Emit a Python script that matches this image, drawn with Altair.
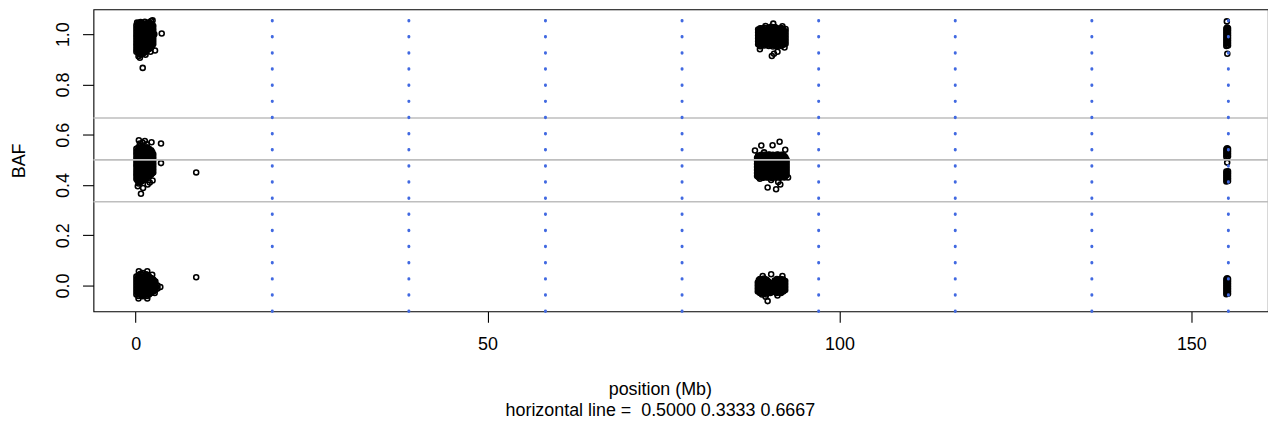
import altair as alt
import pandas as pd

# ---------------- data ----------------
# cluster near 0-3 Mb : columns of positions and BAF values in each column
C1_HI_X = [0.1, 0.4, 0.7, 1.0, 1.3, 1.6, 1.9, 2.2, 2.5]
C1_HI_Y = [
    [0.93, 0.941, 0.953, 0.964, 0.976, 0.988, 0.999, 1.011, 1.023, 1.035],
    [0.912, 0.925, 0.937, 0.949, 0.961, 0.973, 0.986, 0.998, 1.009, 1.021, 1.033, 1.044],
    [0.918, 0.929, 0.94, 0.952, 0.965, 0.977, 0.988, 1.0, 1.012, 1.025, 1.037, 1.048],
    [0.921, 0.934, 0.946, 0.957, 0.969, 0.982, 0.994, 1.006, 1.017, 1.03, 1.042],
    [0.927, 0.939, 0.951, 0.963, 0.976, 0.988, 1.0, 1.012, 1.024, 1.036, 1.049],
    [0.935, 0.947, 0.958, 0.97, 0.982, 0.994, 1.006, 1.018, 1.03, 1.043],
    [0.941, 0.953, 0.964, 0.977, 0.989, 1.001, 1.013, 1.024, 1.036, 1.047],
    [0.947, 0.959, 0.971, 0.983, 0.995, 1.006, 1.018, 1.031, 1.042, 1.052],
    [0.961, 0.973, 0.985, 0.996, 1.008, 1.02, 1.033],
]
C1_HI_FILL_X = [0.25, 0.55, 0.85, 1.15, 1.45, 1.75, 2.05, 2.35]
C1_HI_FILL_Y = [
    [0.935, 0.947, 0.959, 0.971, 0.983, 0.995, 1.007, 1.019, 1.031],
    [0.92, 0.932, 0.944, 0.956, 0.968, 0.98, 0.992, 1.004, 1.016, 1.028, 1.04],
    [0.924, 0.936, 0.948, 0.96, 0.972, 0.984, 0.996, 1.008, 1.02, 1.032, 1.044],
    [0.928, 0.94, 0.952, 0.964, 0.976, 0.988, 1.0, 1.012, 1.024, 1.036],
    [0.933, 0.945, 0.957, 0.969, 0.981, 0.993, 1.005, 1.017, 1.029, 1.041],
    [0.94, 0.952, 0.964, 0.976, 0.988, 1.0, 1.012, 1.024, 1.036],
    [0.946, 0.958, 0.97, 0.982, 0.994, 1.006, 1.018, 1.03, 1.042],
    [0.954, 0.966, 0.978, 0.99, 1.002, 1.014, 1.026, 1.038],
]
C1_MID_X = [0.1, 0.4, 0.7, 1.0, 1.3, 1.6, 1.9, 2.2, 2.5]
C1_MID_Y = [
    [0.424, 0.437, 0.448, 0.46, 0.473, 0.484, 0.496, 0.508, 0.521, 0.532, 0.544],
    [0.406, 0.418, 0.431, 0.442, 0.454, 0.466, 0.479, 0.49, 0.502, 0.515, 0.526, 0.538, 0.55],
    [0.412, 0.424, 0.436, 0.449, 0.46, 0.472, 0.485, 0.496, 0.508, 0.52, 0.533, 0.544, 0.556],
    [0.418, 0.43, 0.442, 0.455, 0.466, 0.478, 0.49, 0.503, 0.514, 0.526, 0.538, 0.55],
    [0.424, 0.436, 0.449, 0.46, 0.472, 0.484, 0.497, 0.508, 0.52, 0.532, 0.545],
    [0.43, 0.442, 0.454, 0.467, 0.478, 0.49, 0.502, 0.514, 0.527, 0.538, 0.55],
    [0.436, 0.448, 0.46, 0.472, 0.485, 0.496, 0.508, 0.52, 0.532, 0.544],
    [0.442, 0.454, 0.466, 0.478, 0.49, 0.503, 0.514, 0.526, 0.538],
    [0.45, 0.462, 0.474, 0.486, 0.498, 0.51, 0.522],
]
C1_MID_FILL_X = [0.25, 0.55, 0.85, 1.15, 1.45, 1.75, 2.05, 2.35]
C1_MID_FILL_Y = [
    [0.418, 0.43, 0.442, 0.454, 0.466, 0.478, 0.49, 0.502, 0.514, 0.526, 0.538],
    [0.41, 0.422, 0.434, 0.446, 0.458, 0.47, 0.482, 0.494, 0.506, 0.518, 0.53, 0.542],
    [0.416, 0.428, 0.44, 0.452, 0.464, 0.476, 0.488, 0.5, 0.512, 0.524, 0.536, 0.548],
    [0.421, 0.433, 0.445, 0.457, 0.469, 0.481, 0.493, 0.505, 0.517, 0.529, 0.541],
    [0.427, 0.439, 0.451, 0.463, 0.475, 0.487, 0.499, 0.511, 0.523, 0.535, 0.547],
    [0.436, 0.448, 0.46, 0.472, 0.484, 0.496, 0.508, 0.52, 0.532, 0.544],
    [0.44, 0.452, 0.464, 0.476, 0.488, 0.5, 0.512, 0.524, 0.536],
    [0.447, 0.459, 0.471, 0.483, 0.495, 0.507, 0.519, 0.531],
]
C1_LO_X = [0.1, 0.4, 0.7, 1.0, 1.3, 1.6, 1.9, 2.2, 2.5, 2.8, 3.1]
C1_LO_Y = [
    [-0.036, -0.024, -0.012, 0.0, 0.012, 0.024, 0.036],
    [-0.042, -0.03, -0.018, -0.006, 0.006, 0.018, 0.03, 0.042],
    [-0.037, -0.025, -0.012, 0.001, 0.013, 0.025, 0.036, 0.047],
    [-0.043, -0.031, -0.019, -0.006, 0.006, 0.018, 0.031, 0.043],
    [-0.036, -0.024, -0.011, 0.0, 0.012, 0.024, 0.037],
    [-0.042, -0.03, -0.018, -0.007, 0.006, 0.018, 0.03, 0.043],
    [-0.036, -0.024, -0.012, 0.001, 0.012, 0.025, 0.036],
    [-0.03, -0.018, -0.006, 0.006, 0.019, 0.03],
    [-0.024, -0.012, 0.0, 0.012, 0.024],
    [-0.018, -0.006, 0.006, 0.016],
    [-0.012, 0.0],
]
C1_LO_FILL_X = [0.25, 0.55, 0.85, 1.15, 1.45, 1.75, 2.05, 2.35, 2.65]
C1_LO_FILL_Y = [
    [-0.03, -0.018, -0.006, 0.006, 0.018, 0.03],
    [-0.036, -0.024, -0.012, 0.0, 0.012, 0.024, 0.036],
    [-0.038, -0.026, -0.014, -0.002, 0.01, 0.022, 0.034, 0.044],
    [-0.037, -0.025, -0.013, -0.001, 0.011, 0.023, 0.035],
    [-0.036, -0.024, -0.012, 0.0, 0.012, 0.024, 0.036, 0.045],
    [-0.036, -0.024, -0.012, 0.0, 0.012, 0.024, 0.036],
    [-0.03, -0.018, -0.006, 0.006, 0.018, 0.03],
    [-0.024, -0.012, 0.0, 0.012, 0.024],
    [-0.018, -0.006, 0.006, 0.018],
]
C1_EXTRA_X = [2.75, 3.7, 1.0, 1.4, 0.6, 2.1, 2.4, 0.2, 2.65,
              0.45, 1.3, 2.25, 3.6, 0.6, 1.0, 1.6, 3.6, 0.75, 1.05, 1.7, 2.4, 2.0, 0.3, 8.6,
              3.5, 0.45, 1.65, 2.35, 0.4, 1.65, 8.6, 2.7, 1.0]
C1_EXTRA_Y = [0.935, 1.003, 0.866, 0.918, 0.906, 0.93, 1.055, 1.046, 1.0,
              0.578, 0.575, 0.57, 0.565, 0.565, 0.568, 0.562, 0.487, 0.365, 0.388, 0.402, 0.418, 0.41, 0.395, 0.45,
              -0.006, 0.057, 0.057, 0.043, -0.052, -0.052, 0.033, -0.03, 0.05]

# cluster near 88-93 Mb
C2_HI_X = [88.45, 88.75, 89.05, 89.35, 89.65, 89.95, 90.25, 90.55, 90.85, 91.15, 91.45, 91.75, 92.05, 92.35]
C2_HI_Y = [
    [0.96, 0.972, 0.984, 0.996, 1.008, 1.019],
    [0.952, 0.965, 0.977, 0.989, 1.001, 1.013, 1.024],
    [0.958, 0.97, 0.983, 0.995, 1.007, 1.019],
    [0.955, 0.966, 0.978, 0.99, 1.002, 1.014, 1.026],
    [0.958, 0.971, 0.983, 0.995, 1.006, 1.018],
    [0.953, 0.965, 0.977, 0.989, 1.001, 1.013, 1.025],
    [0.957, 0.969, 0.981, 0.994, 1.006, 1.018, 1.03],
    [0.951, 0.963, 0.975, 0.988, 1.0, 1.012, 1.024],
    [0.956, 0.969, 0.981, 0.993, 1.005, 1.017, 1.029],
    [0.952, 0.964, 0.976, 0.988, 1.0, 1.012, 1.024],
    [0.957, 0.969, 0.981, 0.993, 1.006, 1.018],
    [0.953, 0.965, 0.977, 0.989, 1.001, 1.013, 1.025],
    [0.958, 0.97, 0.982, 0.994, 1.006, 1.018],
    [0.962, 0.974, 0.986, 0.998, 1.01, 1.021],
]
C2_HI_FILL_X = [88.6, 88.9, 89.2, 89.5, 89.8, 90.1, 90.4, 90.7, 91.0, 91.3, 91.6, 91.9, 92.2]
C2_HI_FILL_Y = [
    [0.958, 0.97, 0.982, 0.994, 1.006, 1.018],
    [0.963, 0.975, 0.987, 0.999, 1.011, 1.023],
    [0.96, 0.972, 0.984, 0.996, 1.008, 1.02],
    [0.964, 0.976, 0.988, 1.0, 1.012, 1.024],
    [0.959, 0.971, 0.983, 0.995, 1.007, 1.019],
    [0.962, 0.974, 0.986, 0.998, 1.01, 1.022],
    [0.957, 0.969, 0.981, 0.993, 1.005, 1.017, 1.029],
    [0.963, 0.975, 0.987, 0.999, 1.011, 1.023],
    [0.958, 0.97, 0.982, 0.994, 1.006, 1.018],
    [0.962, 0.974, 0.986, 0.998, 1.01, 1.022],
    [0.959, 0.971, 0.983, 0.995, 1.007, 1.019],
    [0.962, 0.974, 0.986, 0.998, 1.01, 1.022],
    [0.964, 0.976, 0.988, 1.0, 1.012],
]
C2_MID_X = [88.3, 88.6, 88.9, 89.2, 89.5, 89.8, 90.1, 90.4, 90.7, 91.0, 91.3, 91.6, 91.9, 92.2, 92.5]
C2_MID_Y = [
    [0.436, 0.448, 0.46, 0.472, 0.484, 0.496, 0.508],
    [0.43, 0.442, 0.454, 0.466, 0.478, 0.49, 0.502, 0.514],
    [0.436, 0.448, 0.46, 0.472, 0.484, 0.496, 0.508, 0.52],
    [0.429, 0.441, 0.453, 0.465, 0.477, 0.489, 0.501, 0.513],
    [0.435, 0.447, 0.459, 0.471, 0.483, 0.495, 0.507, 0.519],
    [0.43, 0.442, 0.454, 0.466, 0.478, 0.49, 0.502, 0.514],
    [0.436, 0.448, 0.46, 0.472, 0.484, 0.496, 0.508, 0.52],
    [0.428, 0.44, 0.452, 0.464, 0.476, 0.488, 0.5, 0.512],
    [0.434, 0.446, 0.458, 0.47, 0.482, 0.494, 0.506, 0.518],
    [0.43, 0.442, 0.454, 0.466, 0.478, 0.49, 0.502, 0.514],
    [0.436, 0.448, 0.46, 0.472, 0.484, 0.496, 0.508, 0.52],
    [0.429, 0.441, 0.453, 0.465, 0.477, 0.489, 0.501, 0.513],
    [0.435, 0.447, 0.459, 0.471, 0.483, 0.495, 0.507, 0.519],
    [0.43, 0.442, 0.454, 0.466, 0.478, 0.49, 0.502, 0.514],
    [0.44, 0.452, 0.464, 0.476, 0.488, 0.5],
]
C2_MID_FILL_X = [88.45, 88.75, 89.05, 89.35, 89.65, 89.95, 90.25, 90.55, 90.85, 91.15, 91.45, 91.75, 92.05, 92.35]
C2_MID_FILL_Y = [
    [0.433, 0.445, 0.457, 0.469, 0.481, 0.493, 0.505, 0.517],
    [0.437, 0.449, 0.461, 0.473, 0.485, 0.497, 0.509],
    [0.432, 0.444, 0.456, 0.468, 0.48, 0.492, 0.504, 0.516],
    [0.436, 0.448, 0.46, 0.472, 0.484, 0.496, 0.508, 0.52],
    [0.431, 0.443, 0.455, 0.467, 0.479, 0.491, 0.503, 0.515],
    [0.437, 0.449, 0.461, 0.473, 0.485, 0.497, 0.509, 0.521],
    [0.432, 0.444, 0.456, 0.468, 0.48, 0.492, 0.504, 0.516],
    [0.436, 0.448, 0.46, 0.472, 0.484, 0.496, 0.508, 0.52],
    [0.431, 0.443, 0.455, 0.467, 0.479, 0.491, 0.503, 0.515],
    [0.437, 0.449, 0.461, 0.473, 0.485, 0.497, 0.509, 0.521],
    [0.432, 0.444, 0.456, 0.468, 0.48, 0.492, 0.504, 0.516],
    [0.436, 0.448, 0.46, 0.472, 0.484, 0.496, 0.508, 0.52],
    [0.432, 0.444, 0.456, 0.468, 0.48, 0.492, 0.504, 0.516],
    [0.436, 0.448, 0.46, 0.472, 0.484, 0.496, 0.508],
]
C2_LO_X = [88.4, 88.7, 89.0, 89.3, 89.6, 89.9, 90.2, 90.5, 90.8, 91.1, 91.4, 91.7, 92.0, 92.3]
C2_LO_Y = [
    [-0.024, -0.012, 0.0, 0.012],
    [-0.03, -0.018, -0.006, 0.006, 0.018, 0.026],
    [-0.036, -0.024, -0.012, 0.0, 0.012, 0.024],
    [-0.03, -0.018, -0.006, 0.006, 0.018, 0.028],
    [-0.036, -0.024, -0.012, 0.0, 0.012, 0.024],
    [-0.03, -0.018, -0.006, 0.006, 0.016],
    [-0.03, -0.018, -0.006, 0.006],
    [-0.024, -0.012, 0.0, 0.01],
    [-0.024, -0.012, 0.0, 0.012, 0.02],
    [-0.03, -0.018, -0.006, 0.006, 0.018, 0.026],
    [-0.024, -0.012, 0.0, 0.012, 0.024],
    [-0.03, -0.018, -0.006, 0.006, 0.018, 0.026],
    [-0.024, -0.012, 0.0, 0.012, 0.024],
    [-0.018, -0.006, 0.006, 0.018],
]
C2_LO_FILL_X = [88.55, 88.85, 89.15, 89.45, 89.75, 90.05, 90.35, 90.65, 90.95, 91.25, 91.55, 91.85, 92.15]
C2_LO_FILL_Y = [
    [-0.024, -0.012, 0.0, 0.012, 0.022],
    [-0.03, -0.018, -0.006, 0.006, 0.018],
    [-0.028, -0.016, -0.004, 0.008, 0.02],
    [-0.03, -0.018, -0.006, 0.006, 0.018],
    [-0.026, -0.014, -0.002, 0.01, 0.02],
    [-0.024, -0.012, 0.0, 0.01],
    [-0.024, -0.012, 0.0, 0.008],
    [-0.018, -0.006, 0.006],
    [-0.028, -0.016, -0.004, 0.008, 0.018],
    [-0.024, -0.012, 0.0, 0.012, 0.022],
    [-0.028, -0.016, -0.004, 0.008, 0.02],
    [-0.024, -0.012, 0.0, 0.012, 0.022],
    [-0.02, -0.008, 0.004, 0.016],
]
C2_EXTRA_X = [90.6, 90.4, 90.7, 91.2, 88.7, 92.2, 89.5, 91.9,
              88.9, 90.5, 91.5, 92.3, 89.3, 88.0, 89.8, 91.0, 91.6, 88.7, 92.7, 91.3, 90.3,
              89.1, 90.3, 91.9, 89.8, 89.5, 91.2]
C2_EXTRA_Y = [1.042, 0.913, 0.922, 0.93, 0.94, 0.947, 1.033, 1.032,
              0.557, 0.558, 0.572, 0.54, 0.53, 0.537, 0.39, 0.383, 0.402, 0.425, 0.43, 0.412, 0.42,
              0.038, 0.045, 0.038, -0.062, -0.045, -0.04]

# cluster near 155 Mb
C3_X = [154.98, 155.1, 155.22]
C3_Y = [
    [0.953, 0.963, 0.973, 0.983, 0.993, 1.003, 1.013, 1.023, 0.512, 0.522, 0.532, 0.542,
     0.414, 0.424, 0.434, 0.444, 0.454, -0.035, -0.025, -0.015, -0.005, 0.005, 0.015, 0.025],
    [0.958, 0.968, 0.978, 0.988, 0.998, 1.008, 1.018, 1.027, 0.517, 0.527, 0.537, 0.546,
     0.419, 0.429, 0.439, 0.449, -0.03, -0.02, -0.01, 0.0, 0.01, 0.02, 0.029],
    [0.955, 0.965, 0.975, 0.985, 0.995, 1.005, 1.015, 1.024, 0.514, 0.524, 0.534, 0.543,
     0.416, 0.426, 0.436, 0.446, 0.455, -0.033, -0.023, -0.013, -0.003, 0.007, 0.017, 0.026],
]
C3_EXTRA_X = [155.05, 155.12, 155.1]
C3_EXTRA_Y = [1.051, 0.922, 0.489]

H_LINES = [0.5, 0.3333, 0.6667]
V_LINES = [19.41, 38.82, 58.23, 77.64, 97.05, 116.46, 135.87, 155.27]

X_TICKS = [0, 50, 100, 150]
Y_TICKS = [0.0, 0.2, 0.4, 0.6, 0.8, 1.0]
X_DOMAIN = [-6.0, 160.9]
Y_DOMAIN = [-0.103, 1.099]

X_TITLE = ["position (Mb)", "horizontal line = \u00a00.5000 0.3333 0.6667"]
Y_TITLE = "BAF"

# ---------------- build table ----------------
rows = []
for cols, ylists in [(C1_HI_X, C1_HI_Y), (C1_HI_FILL_X, C1_HI_FILL_Y),
                     (C1_MID_X, C1_MID_Y), (C1_MID_FILL_X, C1_MID_FILL_Y),
                     (C1_LO_X, C1_LO_Y), (C1_LO_FILL_X, C1_LO_FILL_Y),
                     (C2_HI_X, C2_HI_Y), (C2_HI_FILL_X, C2_HI_FILL_Y),
                     (C2_MID_X, C2_MID_Y), (C2_MID_FILL_X, C2_MID_FILL_Y),
                     (C2_LO_X, C2_LO_Y), (C2_LO_FILL_X, C2_LO_FILL_Y),
                     (C3_X, C3_Y)]:
    for xv, ys in zip(cols, ylists):
        for yv in ys:
            rows.append({"x": xv, "y": yv})
for xs, ys in [(C1_EXTRA_X, C1_EXTRA_Y), (C2_EXTRA_X, C2_EXTRA_Y), (C3_EXTRA_X, C3_EXTRA_Y)]:
    for xv, yv in zip(xs, ys):
        rows.append({"x": xv, "y": yv})
pts = pd.DataFrame(rows)
hl = pd.DataFrame({"y": H_LINES})
vl = pd.DataFrame({"x": V_LINES})

FONT = "Liberation Sans"
FS = 18

x_enc = alt.X(
    "x:Q",
    scale=alt.Scale(domain=X_DOMAIN, nice=False, zero=False),
    axis=alt.Axis(
        values=X_TICKS, format="d", grid=False, domain=False,
        tickSize=11, tickColor="black", tickWidth=1.1,
        labelFont=FONT, labelFontSize=FS, labelColor="black",
        labelPadding=27, labelBaseline="alphabetic", labelFlush=False,
        title=X_TITLE, titleFont=FONT, titleFontSize=FS, titleFontWeight="normal",
        titleColor="black", titleX=570, titleY=83.5, titleAlign="center",
        titleBaseline="alphabetic", titleLineHeight=21.6,
    ),
)
y_enc = alt.Y(
    "y:Q",
    scale=alt.Scale(domain=Y_DOMAIN, nice=False, zero=False),
    axis=alt.Axis(
        values=Y_TICKS, format=".1f", grid=False, domain=False,
        tickSize=11, tickColor="black", tickWidth=1.1,
        labelFont=FONT, labelFontSize=FS, labelColor="black",
        labelAngle=270, labelAlign="center", labelBaseline="alphabetic",
        labelPadding=14.5, labelFlush=False,
        title=Y_TITLE, titleFont=FONT, titleFontSize=FS, titleFontWeight="normal",
        titleColor="black", titleAngle=270, titleX=-69.5, titleY=152,
        titleAlign="center", titleBaseline="alphabetic",
    ),
)

points = alt.Chart(pts).mark_point(
    shape="circle", filled=False, size=25, strokeWidth=1.6, color="black", opacity=1
).encode(x=x_enc, y=y_enc)

hrules = alt.Chart(hl).mark_rule(color="#BEBEBE", strokeWidth=1.6).encode(y=y_enc)

vrules = alt.Chart(vl).mark_rule(
    color="#4169E1", strokeWidth=3, strokeDash=[0.5, 15.74], strokeCap="round"
).encode(x=x_enc, y=alt.value(304), y2=alt.value(0))

chart = alt.layer(points, hrules, vrules).properties(
    width=1182, height=304,
    autosize=alt.AutoSizeParams(type="none"),
    padding={"left": 86, "top": 0, "right": 0, "bottom": 114},
    background="white",
).configure_view(stroke="black", strokeWidth=1.1)

chart.save("out.html", embed_options={"renderer": "svg", "actions": False})
